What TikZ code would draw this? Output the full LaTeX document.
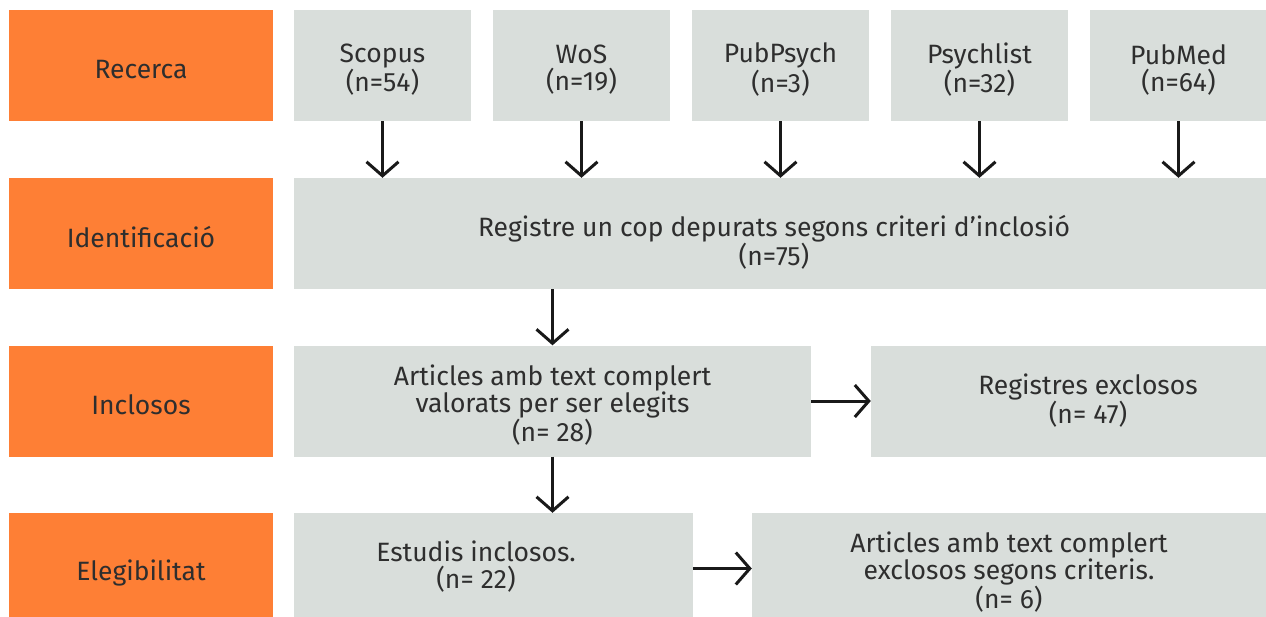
\documentclass[tikz,border=0pt]{standalone}
\usepackage{fontspec}
\setmainfont{Fira Sans}
\usetikzlibrary{arrows.meta}
\definecolor{taronja}{HTML}{FE7F35}
\definecolor{gris}{HTML}{D9DEDB}
\definecolor{lletra}{HTML}{2E2E2E}

\begin{document}
\begin{tikzpicture}[x=1pt,y=-1pt,
    every node/.style={inner sep=0pt},
    txt/.style={align=center, text=lletra, font=\fontsize{26.5}{27}\selectfont},
    fase/.style={fill=taronja, minimum width=264pt, minimum height=111pt},
    caixa/.style={fill=gris, minimum height=111pt},
    fletxa/.style={draw=black!90, line width=3pt, -{Straight Barb[length=14pt,width=32pt]}}]
    \useasboundingbox (0,0) rectangle (1266,616);

    % fases
    \node[fase] (recerca) at (141,65.5) {};
    \node[fase] (ident) at (141,233.5) {};
    \node[fase] (incl) at (141,401) {};
    \node[fase] (eleg) at (141,568.5) {};
    \node[txt] (recerca-t) at ([yshift=-4pt]recerca) {Recerca};
    \node[txt] (ident-t) at ([yshift=-4pt]ident) {Identificació};
    \node[txt] (incl-t) at ([yshift=-4pt]incl) {Inclosos};
    \node[txt] (eleg-t) at ([yshift=-4pt]eleg) {Elegibilitat};

    % bases de dades
    \node[caixa, minimum width=177pt] (scopus) at (382.5,65.5) {};
    \node[caixa, minimum width=177pt] (wos) at (581.5,65.5) {};
    \node[caixa, minimum width=177pt] (pubpsych) at (780.5,65.5) {};
    \node[caixa, minimum width=177pt] (psychlist) at (979.5,65.5) {};
    \node[caixa, minimum width=177pt] (pubmed) at (1178.5,65.5) {};
    \node[txt] (scopus-t) at ([yshift=-4pt]scopus) {Scopus\\(n=54)};
    \node[txt] (wos-t) at ([yshift=-4pt]wos) {WoS\\(n=19)};
    \node[txt] (pubpsych-t) at ([yshift=-4pt]pubpsych) {PubPsych\\(n=3)};
    \node[txt] (psychlist-t) at ([yshift=-4pt]psychlist) {Psychlist\\(n=32)};
    \node[txt] (pubmed-t) at ([yshift=-4pt]pubmed) {PubMed\\(n=64)};

    % resta de caixes
    \node[caixa, minimum width=972pt] (registre) at (780,233.5) {};
    \node[caixa, minimum width=517pt] (articles) at (552.5,401) {};
    \node[caixa, minimum width=395pt] (exclosos) at (1068.5,401) {};
    \node[caixa, minimum width=399pt] (estudis) at (493.5,568.5) {};
    \node[caixa, minimum width=514pt] (criteris) at (1009,568.5) {};
    \node[txt] (registre-t) at (774,242) {Registre un cop depurats segons criteri d’inclosió\\(n=75)};
    \node[txt] (articles-t) at ([yshift=-4pt]articles) {Articles amb text complert\\valorats per ser elegits\\(n= 28)};
    \node[txt] (exclosos-t) at (1088,401) {Registres exclosos\\(n= 47)};
    \node[txt] (estudis-t) at (476,567) {Estudis inclosos.\\(n= 22)};
    \node[txt] (criteris-t) at ([yshift=-3.5pt]criteris) {Articles amb text complert\\exclosos segons criteris.\\(n= 6)};

    \draw[fletxa] (scopus) -- (registre.north -| scopus);
    \draw[fletxa] (wos) -- (registre.north -| wos);
    \draw[fletxa] (pubpsych) -- (registre.north -| pubpsych);
    \draw[fletxa] (psychlist) -- (registre.north -| psychlist);
    \draw[fletxa] (pubmed) -- (registre.north -| pubmed);

    \draw[fletxa] (registre.south -| articles) -- (articles);
    \draw[fletxa] (articles) -- (estudis.north -| articles);
    \draw[fletxa] (articles) -- (exclosos);
    \draw[fletxa] (estudis) -- (criteris);
\end{tikzpicture}
\end{document}
